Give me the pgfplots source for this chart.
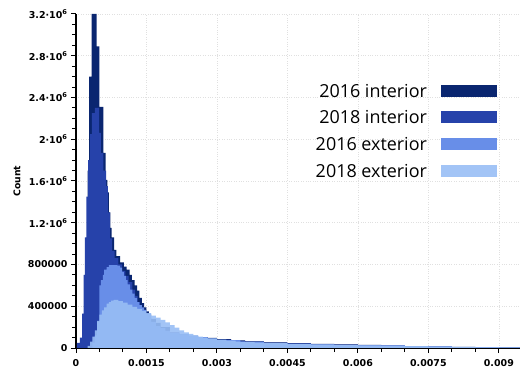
\documentclass[border=0pt]{standalone}
\usepackage{fontspec}
\setmainfont{DejaVu Sans}
\newfontfamily\legendfont{Open Sans}
\usepackage{pgfplots}
\pgfplotsset{compat=1.18}
\definecolor{cA}{RGB}{10,38,112}
\definecolor{cB}{RGB}{38,66,170}
\definecolor{cC}{RGB}{104,142,232}
\definecolor{cD}{RGB}{152,190,245}
\pgfplotsset{
  layers/mylayers/.define layer set={axis background,axis grid,main,axis ticks,axis lines,axis tick labels,axis descriptions,axis foreground}{},
}
\begin{document}
\begin{tikzpicture}
\begin{axis}[
  set layers=mylayers,
  scale only axis, width=444bp, height=334bp,
  xmin=0, xmax=0.00945, ymin=0, ymax=3200000,
  axis lines=left, axis line style={-, line width=1.3bp, black},
  tick align=outside, tick pos=left,
  major tick length=5bp, minor tick length=4bp,
  every tick/.style={black, line width=1bp},
  xtick={0,0.0015,0.003,0.0045,0.006,0.0075,0.009},
  xticklabels={0,0.0015,0.003,0.0045,0.006,0.0075,0.009},
  minor x tick num=2,
  ytick={0,400000,800000,1200000,1600000,2000000,2400000,2800000,3200000},
  yticklabels={0,400000,800000,1.2·10\textsuperscript{6},1.6·10\textsuperscript{6},2·10\textsuperscript{6},2.4·10\textsuperscript{6},2.8·10\textsuperscript{6},3.2·10\textsuperscript{6}},
  minor y tick num=3,
  grid=major, major grid style={dotted, black!12, line width=0.6bp},
  ticklabel style={font=\fontsize{9.5}{10}\selectfont\bfseries},
  xticklabel style={yshift=-3bp},
  scaled ticks=false,
  ylabel={Count},
  ylabel style={font=\fontsize{9.3}{10}\selectfont\bfseries, at={(axis description cs:-0.133,0.5)}, anchor=center},
  legend style={draw=none, fill=none, at={(0.948,0.79)}, anchor=north east,
    inner sep=0pt, outer sep=0pt, font=\fontsize{18}{20}\legendfont,
    row sep=9.7bp, column sep=14bp,
    nodes={inner sep=0pt, text height=13bp, text depth=4bp}},
  legend cell align=right, legend plot pos=right,
  legend image code/.code={\fill[#1] (0bp,-4bp) rectangle (56bp,8bp);},
]
% 2016 interior
\addplot[const plot, fill=cA, draw=none] coordinates {
(0,0) (0.0001,50000) (0.00015,300000) (0.0002,900000) (0.00025,1700000)
(0.00028,2600000) (0.00033,3200000) (0.00044,2890000) (0.0005,2310000)
(0.00058,1870000) (0.00063,1610000) (0.00067,1490000) (0.0007,1300000)
(0.00073,1150000) (0.00076,1060000) (0.00081,940000) (0.00086,880000)
(0.00094,820000) (0.00102,780000) (0.00108,750000) (0.00114,700000)
(0.00119,650000) (0.00125,600000) (0.0013,550000) (0.00135,480000)
(0.0014,430000) (0.00145,390000) (0.0015,350000) (0.00155,320000)
(0.0016,280000) (0.0017,240000) (0.0018,200000) (0.002,150000)
(0.0022,130000) (0.0024,115000) (0.0026,105000) (0.0028,97000)
(0.003,85000) (0.0033,72000) (0.0036,63000) (0.004,54000) (0.0045,46000)
(0.005,40000) (0.0055,34000) (0.006,29000) (0.0065,23000) (0.007,18000)
(0.0075,14000) (0.008,10000) (0.0085,7000) (0.009,5000) (0.00945,3000)
} \closedcycle;
\addlegendentry{2016 interior}
% 2018 interior
\addplot[const plot, fill=cB, draw=none] coordinates {
(0,0) (0.00002,50000) (0.00008,100000) (0.00013,330000) (0.00016,700000)
(0.00019,1060000) (0.00022,1450000) (0.00026,1800000) (0.0003,2050000)
(0.00034,2250000) (0.0004,2300000) (0.00049,2060000) (0.00053,1870000)
(0.00058,1700000) (0.00064,1550000) (0.00068,1300000) (0.00072,1050000)
(0.00077,930000) (0.00082,860000) (0.0009,800000) (0.00098,740000)
(0.00105,690000) (0.00112,630000) (0.0012,560000) (0.00126,500000)
(0.00131,440000) (0.00136,390000) (0.0014,340000) (0.00145,300000)
(0.0015,270000) (0.0016,220000) (0.0017,190000) (0.0018,165000)
(0.002,130000) (0.0022,115000) (0.0024,105000) (0.0026,97000)
(0.0028,90000) (0.003,80000) (0.0033,68000) (0.0036,60000) (0.004,51000)
(0.0045,44000) (0.005,38000) (0.0055,32000) (0.006,27000) (0.0065,22000)
(0.007,17000) (0.0075,13000) (0.008,9000) (0.0085,6000) (0.009,4000) (0.00945,2500)
} \closedcycle;
\addlegendentry{2018 interior}
% 2016 exterior
\addplot[const plot, fill=cC, draw=none] coordinates {
(0.0003,0) (0.00035,50000) (0.0004,120000) (0.00045,250000) (0.0005,600000)
(0.00053,650000) (0.00057,700000) (0.0006,750000) (0.00065,775000)
(0.0007,795000) (0.00088,790000) (0.00094,770000) (0.00098,730000)
(0.00102,690000) (0.00106,650000) (0.0011,610000) (0.00115,560000)
(0.0012,520000) (0.00125,480000) (0.0013,440000) (0.00135,410000)
(0.0014,390000) (0.00145,365000) (0.0015,330000) (0.0016,250000)
(0.0017,210000) (0.0018,190000) (0.0019,165000) (0.002,145000)
(0.0022,130000) (0.0024,118000) (0.0026,105000) (0.0028,90000)
(0.003,75000) (0.0035,58000) (0.004,46000) (0.0045,39000) (0.005,33000)
(0.0055,28000) (0.006,24000) (0.007,16000) (0.008,9000) (0.009,5000) (0.00945,3000)
} \closedcycle;
\addlegendentry{2016 exterior}
% 2018 exterior
\addplot[const plot, fill=cD, draw=none, fill opacity=0.9] coordinates {
(0.0002,0) (0.00025,20000) (0.0003,60000) (0.00035,110000) (0.0004,170000)
(0.00045,260000) (0.0005,320000) (0.00055,360000) (0.0006,390000)
(0.00065,425000) (0.0007,440000) (0.00075,455000) (0.0008,460000)
(0.0009,450000) (0.001,435000) (0.0011,415000) (0.0012,395000)
(0.0013,375000) (0.0014,355000) (0.0015,335000) (0.0016,310000)
(0.0017,290000) (0.0018,270000) (0.0019,245000) (0.002,220000)
(0.0021,195000) (0.0022,170000) (0.0023,150000) (0.0024,135000)
(0.0025,122000) (0.0026,110000) (0.0027,100000) (0.0028,92000)
(0.003,80000) (0.0032,70000) (0.0034,62000) (0.0036,56000) (0.0038,51000)
(0.004,47000) (0.0045,40000) (0.005,35000) (0.0055,30000) (0.006,26000)
(0.0065,21000) (0.007,17000) (0.0075,13000) (0.008,10000) (0.0085,7000)
(0.009,5000) (0.00945,3000)
} \closedcycle;
\addlegendentry{2018 exterior}
\end{axis}
\pgfresetboundingbox
\path[use as bounding box] (-76bp,-24bp) rectangle (444bp,348bp);
\end{tikzpicture}
\end{document}
